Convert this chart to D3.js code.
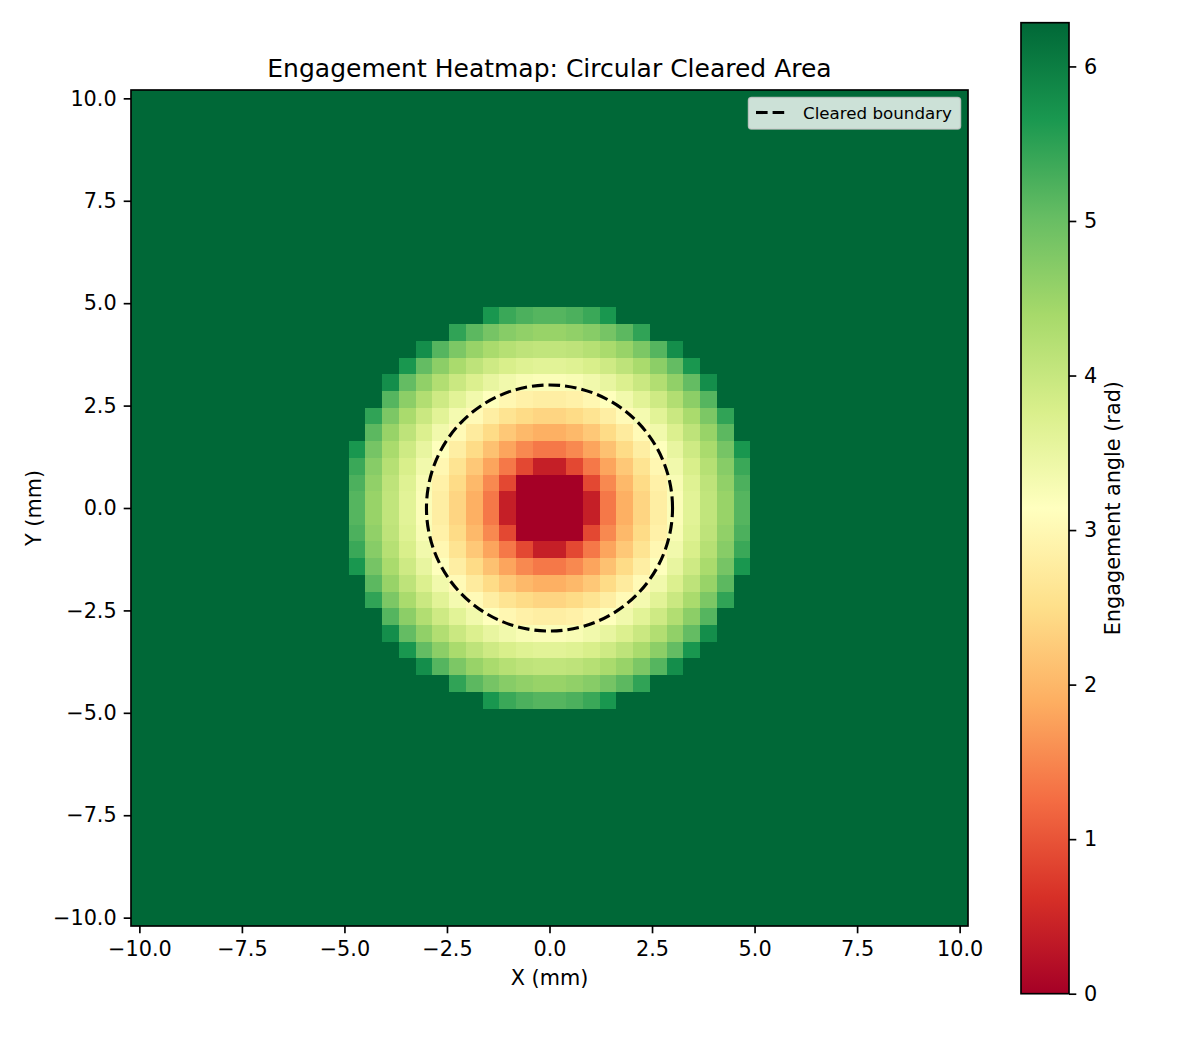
<!DOCTYPE html>
<html>
<head>
<meta charset="utf-8">
<script src="https://cdn.jsdelivr.net/npm/d3@7"></script>
<style>
    body { margin: 0; background: white; }
    text { font-family: "DejaVu Sans", sans-serif; }
</style>
</head>
<body>
<div id="canvas"></div>
<script>
"use strict"

/* grid: 50 x 50 cell centres from -10 to 10 mm */
const gridCount = 50;
const gridExtent = [-10, 10];

/* one quadrant of the engagement angle (rad).
   row k = k-th cell away from the centre in y, column m = m-th cell away in x.
   the picture is mirror symmetric so the other three quadrants are the same. */
const quadrantValues = [
    [0.00, 0.00, 0.40, 1.36, 1.91, 2.38, 2.80, 3.21, 3.62, 4.06, 4.54, 5.17],
    [0.00, 0.00, 0.88, 1.53, 2.02, 2.46, 2.86, 3.26, 3.67, 4.10, 4.60, 5.24],
    [0.40, 0.88, 1.36, 1.80, 2.21, 2.60, 2.98, 3.37, 3.77, 4.20, 4.70, 5.39],
    [1.36, 1.53, 1.80, 2.12, 2.46, 2.80, 3.16, 3.52, 3.91, 4.35, 4.87, 5.67],
    [1.91, 2.02, 2.21, 2.46, 2.74, 3.04, 3.37, 3.72, 4.10, 4.54, 5.11, 6.28],
    [2.38, 2.46, 2.60, 2.80, 3.04, 3.32, 3.62, 3.96, 4.35, 4.81, 5.47, 6.28],
    [2.80, 2.86, 2.98, 3.16, 3.37, 3.62, 3.91, 4.25, 4.65, 5.17, 6.28, 6.28],
    [3.21, 3.26, 3.37, 3.52, 3.72, 3.96, 4.25, 4.60, 5.04, 5.79, 6.28, 6.28],
    [3.62, 3.67, 3.77, 3.91, 4.10, 4.35, 4.65, 5.04, 5.67, 6.28, 6.28, 6.28],
    [4.06, 4.10, 4.20, 4.35, 4.54, 4.81, 5.17, 5.79, 6.28, 6.28, 6.28, 6.28],
    [4.54, 4.60, 4.70, 4.87, 5.11, 5.47, 6.28, 6.28, 6.28, 6.28, 6.28, 6.28],
    [5.17, 5.24, 5.39, 5.67, 6.28, 6.28, 6.28, 6.28, 6.28, 6.28, 6.28, 6.28]
];
/* everything further out is fully engaged */
const outsideValue = 6.283;

const clearedRadius = 3;
const colorMin = 0;
const colorMax = 6.283;

const xTicks = [-10, -7.5, -5, -2.5, 0, 2.5, 5, 7.5, 10];
const yTicks = [-10, -7.5, -5, -2.5, 0, 2.5, 5, 7.5, 10];
const colorTicks = [0, 1, 2, 3, 4, 5, 6];

/* RdYlGn anchors, same as matplotlib */
const rdYlGn = ["#a50026", "#d73027", "#f46d43", "#fdae61", "#fee08b", "#ffffbf",
    "#d9ef8b", "#a6d96a", "#66bd63", "#1a9850", "#006837"];

/* set up the drawing canvas */
let drawing = d3.select("#canvas")
    .append("svg")
    .attr("width", 1200)
    .attr("height", 1050);

const plotLeft = 131, plotRight = 968, plotTop = 90, plotBottom = 926;
const cellStep = (gridExtent[1] - gridExtent[0]) / (gridCount - 1);
const half = cellStep / 2;

let x = d3.scaleLinear()
    .domain([gridExtent[0] - half, gridExtent[1] + half])
    .range([plotLeft, plotRight]);
let y = d3.scaleLinear()
    .domain([gridExtent[0] - half, gridExtent[1] + half])
    .range([plotBottom, plotTop]);

let color = d3.scaleLinear()
    .domain(rdYlGn.map((c, i) => colorMin + (colorMax - colorMin) * i / (rdYlGn.length - 1)))
    .range(rdYlGn)
    .clamp(true);

/* build the cells: mirror the quadrant into the full grid */
let centres = d3.range(gridCount).map(i => gridExtent[0] + i * cellStep);
let cells = [];
let mid = gridCount / 2;
for (let j = 0; j < gridCount; j++) {
    let k = j < mid ? mid - 1 - j : j - mid;
    for (let i = 0; i < gridCount; i++) {
        let m = i < mid ? mid - 1 - i : i - mid;
        let v = (k < quadrantValues.length && m < quadrantValues[k].length) ? quadrantValues[k][m] : outsideValue;
        cells.push({ cx: centres[i], cy: centres[j], value: v });
    }
}

/* heatmap cells */
drawing.append("g")
    .selectAll("rect")
    .data(cells)
    .join("rect")
    .attr("x", d => x(d.cx - half))
    .attr("y", d => y(d.cy + half))
    .attr("width", d => x(d.cx + half) - x(d.cx - half))
    .attr("height", d => y(d.cy - half) - y(d.cy + half))
    .attr("fill", d => color(d.value))
    .attr("shape-rendering", "crispEdges");

/* cleared boundary, dashed circle (drawn counter-clockwise from the right like the original) */
let boundary = d3.path();
let r = x(clearedRadius) - x(0);
boundary.moveTo(x(0) + r, y(0));
boundary.arc(x(0), y(0), r, 0, 2 * Math.PI, true);
drawing.append("path")
    .attr("d", boundary.toString())
    .attr("fill", "none")
    .attr("stroke", "black")
    .attr("stroke-width", 3.1)
    .attr("stroke-dasharray", "11.6,5");

/* axes frame */
drawing.append("rect")
    .attr("x", plotLeft)
    .attr("y", plotTop)
    .attr("width", plotRight - plotLeft)
    .attr("height", plotBottom - plotTop)
    .attr("fill", "none")
    .attr("stroke", "black")
    .attr("stroke-width", 1.67);

function styleAxis(g) {
    g.select(".domain").remove();
    g.selectAll(".tick line").attr("stroke", "black").attr("stroke-width", 1.67);
    g.selectAll(".tick text")
        .attr("fill", "black")
        .style("font-family", "'DejaVu Sans', sans-serif")
        .style("font-size", "20.8px");
}

/* x axis */
drawing.append("g")
    .attr("transform", "translate(0," + plotBottom + ")")
    .call(d3.axisBottom(x).tickValues(xTicks).tickFormat(d3.format(".1f")).tickSize(7.3).tickPadding(8))
    .call(styleAxis);

/* y axis */
drawing.append("g")
    .attr("transform", "translate(" + plotLeft + ",0)")
    .call(d3.axisLeft(y).tickValues(yTicks).tickFormat(d3.format(".1f")).tickSize(7.3).tickPadding(7))
    .call(styleAxis);

/* title and axis labels */
drawing.append("text")
    .attr("x", (plotLeft + plotRight) / 2)
    .attr("y", 77)
    .attr("text-anchor", "middle")
    .style("font-size", "25px")
    .text("Engagement Heatmap: Circular Cleared Area");

drawing.append("text")
    .attr("x", (plotLeft + plotRight) / 2)
    .attr("y", 985)
    .attr("text-anchor", "middle")
    .style("font-size", "20.8px")
    .text("X (mm)");

drawing.append("text")
    .attr("transform", "translate(41," + (plotTop + plotBottom) / 2 + ") rotate(-90)")
    .attr("text-anchor", "middle")
    .style("font-size", "20.8px")
    .text("Y (mm)");

/* legend */
let legend = drawing.append("g");
legend.append("rect")
    .attr("x", 748.5)
    .attr("y", 97.5)
    .attr("width", 212)
    .attr("height", 31.5)
    .attr("rx", 3)
    .attr("fill", "white")
    .attr("fill-opacity", 0.8)
    .attr("stroke", "#cccccc")
    .attr("stroke-opacity", 0.8)
    .attr("stroke-width", 1.5);
legend.append("line")
    .attr("x1", 756)
    .attr("x2", 789)
    .attr("y1", 112.5)
    .attr("y2", 112.5)
    .attr("stroke", "black")
    .attr("stroke-width", 3.1)
    .attr("stroke-dasharray", "11.6,5");
legend.append("text")
    .attr("x", 803)
    .attr("y", 118.5)
    .style("font-size", "16.7px")
    .text("Cleared boundary");

/* colour bar */
const barLeft = 1021, barRight = 1069, barTop = 22.7, barBottom = 993.7;
let c = d3.scaleLinear().domain([colorMin, colorMax]).range([barBottom, barTop]);

let grad = drawing.append("defs").append("linearGradient")
    .attr("id", "cbar")
    .attr("x1", 0).attr("y1", 1)
    .attr("x2", 0).attr("y2", 0);
grad.selectAll("stop")
    .data(rdYlGn)
    .join("stop")
    .attr("offset", (d, i) => i / (rdYlGn.length - 1))
    .attr("stop-color", d => d);

drawing.append("rect")
    .attr("x", barLeft)
    .attr("y", barTop)
    .attr("width", barRight - barLeft)
    .attr("height", barBottom - barTop)
    .attr("fill", "url(#cbar)")
    .attr("stroke", "black")
    .attr("stroke-width", 1.67);

drawing.append("g")
    .attr("transform", "translate(" + barRight + ",0)")
    .call(d3.axisRight(c).tickValues(colorTicks).tickFormat(d3.format("d")).tickSize(7.3).tickPadding(7.7))
    .call(styleAxis);

drawing.append("text")
    .attr("transform", "translate(1120," + (barTop + barBottom) / 2 + ") rotate(-90)")
    .attr("text-anchor", "middle")
    .style("font-size", "20.8px")
    .text("Engagement angle (rad)");
</script>
</body>
</html>
